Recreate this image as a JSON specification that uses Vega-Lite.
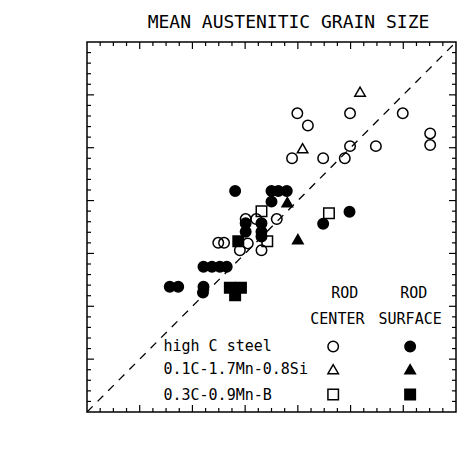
{
  "$schema": "https://vega.github.io/schema/vega-lite/v6.json",
  "width": 369,
  "height": 370,
  "autosize": {"type": "none"},
  "padding": {"left": 87, "top": 42, "right": 12, "bottom": 55},
  "title": {"text": "MEAN AUSTENITIC GRAIN SIZE", "font": "DejaVu Sans Mono", "fontSize": 18, "fontWeight": "normal", "color": "black", "anchor": "middle", "dx": 17, "offset": 7},
  "config": {"view": {"stroke": "black", "strokeWidth": 1.5}, "font": "DejaVu Sans Mono", "background": "white"},
  "datasets": {
    "points": [
      {"m": 39.9, "c": 56.5, "steel": "high C steel", "pos": "center"},
      {"m": 49.9, "c": 56.5, "steel": "high C steel", "pos": "center"},
      {"m": 59.9, "c": 56.5, "steel": "high C steel", "pos": "center"},
      {"m": 41.9, "c": 54.2, "steel": "high C steel", "pos": "center"},
      {"m": 65.1, "c": 52.7, "steel": "high C steel", "pos": "center"},
      {"m": 65.1, "c": 50.5, "steel": "high C steel", "pos": "center"},
      {"m": 49.9, "c": 50.3, "steel": "high C steel", "pos": "center"},
      {"m": 54.8, "c": 50.3, "steel": "high C steel", "pos": "center"},
      {"m": 38.9, "c": 48.0, "steel": "high C steel", "pos": "center"},
      {"m": 44.8, "c": 48.0, "steel": "high C steel", "pos": "center"},
      {"m": 48.9, "c": 48.0, "steel": "high C steel", "pos": "center"},
      {"m": 30.1, "c": 36.5, "steel": "high C steel", "pos": "center"},
      {"m": 32.1, "c": 36.5, "steel": "high C steel", "pos": "center"},
      {"m": 36.0, "c": 36.5, "steel": "high C steel", "pos": "center"},
      {"m": 24.9, "c": 32.0, "steel": "high C steel", "pos": "center"},
      {"m": 26.0, "c": 32.0, "steel": "high C steel", "pos": "center"},
      {"m": 29.0, "c": 30.6, "steel": "high C steel", "pos": "center"},
      {"m": 30.5, "c": 31.9, "steel": "high C steel", "pos": "center"},
      {"m": 33.1, "c": 30.6, "steel": "high C steel", "pos": "center"},
      {"m": 51.8, "c": 60.6, "steel": "0.1C-1.7Mn-0.8Si", "pos": "center"},
      {"m": 40.9, "c": 49.9, "steel": "0.1C-1.7Mn-0.8Si", "pos": "center"},
      {"m": 33.1, "c": 38.0, "steel": "0.3C-0.9Mn-B", "pos": "center"},
      {"m": 45.9, "c": 37.6, "steel": "0.3C-0.9Mn-B", "pos": "center"},
      {"m": 34.2, "c": 32.3, "steel": "0.3C-0.9Mn-B", "pos": "center"},
      {"m": 28.1, "c": 41.8, "steel": "high C steel", "pos": "surface"},
      {"m": 35.0, "c": 41.8, "steel": "high C steel", "pos": "surface"},
      {"m": 36.3, "c": 41.8, "steel": "high C steel", "pos": "surface"},
      {"m": 37.9, "c": 41.8, "steel": "high C steel", "pos": "surface"},
      {"m": 35.0, "c": 39.8, "steel": "high C steel", "pos": "surface"},
      {"m": 49.8, "c": 37.9, "steel": "high C steel", "pos": "surface"},
      {"m": 44.8, "c": 35.6, "steel": "high C steel", "pos": "surface"},
      {"m": 30.1, "c": 35.7, "steel": "high C steel", "pos": "surface"},
      {"m": 30.1, "c": 34.1, "steel": "high C steel", "pos": "surface"},
      {"m": 33.1, "c": 35.7, "steel": "high C steel", "pos": "surface"},
      {"m": 33.1, "c": 34.1, "steel": "high C steel", "pos": "surface"},
      {"m": 33.1, "c": 33.2, "steel": "high C steel", "pos": "surface"},
      {"m": 22.1, "c": 27.5, "steel": "high C steel", "pos": "surface"},
      {"m": 23.7, "c": 27.5, "steel": "high C steel", "pos": "surface"},
      {"m": 25.2, "c": 27.5, "steel": "high C steel", "pos": "surface"},
      {"m": 26.5, "c": 27.5, "steel": "high C steel", "pos": "surface"},
      {"m": 15.7, "c": 23.7, "steel": "high C steel", "pos": "surface"},
      {"m": 17.3, "c": 23.7, "steel": "high C steel", "pos": "surface"},
      {"m": 22.1, "c": 23.7, "steel": "high C steel", "pos": "surface"},
      {"m": 22.0, "c": 22.6, "steel": "high C steel", "pos": "surface"},
      {"m": 38.0, "c": 39.7, "steel": "0.1C-1.7Mn-0.8Si", "pos": "surface"},
      {"m": 40.0, "c": 32.7, "steel": "0.1C-1.7Mn-0.8Si", "pos": "surface"},
      {"m": 28.7, "c": 32.3, "steel": "0.3C-0.9Mn-B", "pos": "surface"},
      {"m": 27.1, "c": 23.5, "steel": "0.3C-0.9Mn-B", "pos": "surface"},
      {"m": 29.2, "c": 23.5, "steel": "0.3C-0.9Mn-B", "pos": "surface"},
      {"m": 28.1, "c": 22.1, "steel": "0.3C-0.9Mn-B", "pos": "surface"}
    ],
    "diag": [{"m": 0, "c": 0}, {"m": 70, "c": 70}],
    "xMajor": [{"v": 10}, {"v": 20}, {"v": 30}, {"v": 40}, {"v": 50}, {"v": 60}],
    "xMinor": [{"v": 2.5}, {"v": 5}, {"v": 7.5}, {"v": 12.5}, {"v": 15}, {"v": 17.5}, {"v": 22.5}, {"v": 25}, {"v": 27.5}, {"v": 32.5}, {"v": 35}, {"v": 37.5}, {"v": 42.5}, {"v": 45}, {"v": 47.5}, {"v": 52.5}, {"v": 55}, {"v": 57.5}, {"v": 62.5}, {"v": 65}, {"v": 67.5}],
    "yMajor": [{"v": 10}, {"v": 20}, {"v": 30}, {"v": 40}, {"v": 50}, {"v": 60}],
    "yMinor": [{"v": 2}, {"v": 4}, {"v": 6}, {"v": 8}, {"v": 12}, {"v": 14}, {"v": 16}, {"v": 18}, {"v": 22}, {"v": 24}, {"v": 26}, {"v": 28}, {"v": 32}, {"v": 34}, {"v": 36}, {"v": 38}, {"v": 42}, {"v": 44}, {"v": 46}, {"v": 48}, {"v": 52}, {"v": 54}, {"v": 56}, {"v": 58}, {"v": 62}, {"v": 64}, {"v": 66}, {"v": 68}],
    "legendSymbols": [
      {"m": 46.7, "c": 12.4, "steel": "high C steel", "pos": "center"},
      {"m": 61.3, "c": 12.4, "steel": "high C steel", "pos": "surface"},
      {"m": 46.7, "c": 8.1, "steel": "0.1C-1.7Mn-0.8Si", "pos": "center"},
      {"m": 61.3, "c": 8.1, "steel": "0.1C-1.7Mn-0.8Si", "pos": "surface"},
      {"m": 46.7, "c": 3.3, "steel": "0.3C-0.9Mn-B", "pos": "center"},
      {"m": 61.3, "c": 3.3, "steel": "0.3C-0.9Mn-B", "pos": "surface"}
    ],
    "legendNames": [
      {"m": 14.5, "c": 12.4, "label": "high C steel"},
      {"m": 14.5, "c": 8.1, "label": "0.1C-1.7Mn-0.8Si"},
      {"m": 14.5, "c": 3.3, "label": "0.3C-0.9Mn-B"}
    ],
    "legendHeaders": [
      {"m": 48.9, "c": 22.5, "label": "ROD"},
      {"m": 62.0, "c": 22.5, "label": "ROD"},
      {"m": 47.5, "c": 17.6, "label": "CENTER"},
      {"m": 61.3, "c": 17.6, "label": "SURFACE"}
    ]
  },
  "layer": [
    {
      "data": {"name": "diag"},
      "mark": {"type": "line", "color": "black", "strokeWidth": 1.3, "strokeDash": [8, 7]},
      "encoding": {
        "x": {"field": "m", "type": "quantitative", "scale": {"domain": [0, 70], "nice": false, "zero": false},
          "axis": {"orient": "bottom", "title": "measured grain size (μm)", "titleFont": "DejaVu Sans Mono", "titleFontSize": 16, "titleFontWeight": "normal", "titleColor": "black", "titlePadding": 4,
            "values": [0, 10, 20, 30, 40, 50, 60, 70],
            "labelFont": "DejaVu Sans Mono", "labelFontSize": 15, "labelColor": "black", "labelOverlap": false, "labelPadding": 13,
            "tickSize": -4, "tickColor": "black", "tickWidth": 1.2, "domain": false, "grid": false}},
        "y": {"field": "c", "type": "quantitative", "scale": {"domain": [0, 70], "nice": false, "zero": false},
          "axis": {"orient": "left", "title": "calculated grain size (μm)", "titleFont": "DejaVu Sans Mono", "titleFontSize": 16, "titleFontWeight": "normal", "titleColor": "black", "titlePadding": 25,
            "values": [0, 10, 20, 30, 40, 50, 60, 70],
            "labelFont": "DejaVu Sans Mono", "labelFontSize": 15, "labelColor": "black", "labelOverlap": false, "labelPadding": 21,
            "tickSize": -4, "tickColor": "black", "tickWidth": 1.2, "domain": false, "grid": false}}
      }
    },
    {
      "data": {"name": "xMajor"},
      "mark": {"type": "rule", "color": "black", "strokeWidth": 1.2},
      "encoding": {
        "x": {"field": "v", "type": "quantitative", "scale": {"domain": [0, 70], "nice": false, "zero": false}, "axis": null},
        "y": {"datum": 0, "type": "quantitative", "scale": {"domain": [0, 70], "nice": false, "zero": false}, "axis": null},
        "y2": {"datum": 1.33}
      }
    },
    {
      "data": {"name": "xMinor"},
      "mark": {"type": "rule", "color": "black", "strokeWidth": 1.2},
      "encoding": {
        "x": {"field": "v", "type": "quantitative", "scale": {"domain": [0, 70], "nice": false, "zero": false}, "axis": null},
        "y": {"datum": 0, "type": "quantitative", "scale": {"domain": [0, 70], "nice": false, "zero": false}, "axis": null},
        "y2": {"datum": 0.76}
      }
    },
    {
      "data": {"name": "xMajor"},
      "mark": {"type": "rule", "color": "black", "strokeWidth": 1.2},
      "encoding": {
        "x": {"field": "v", "type": "quantitative", "scale": {"domain": [0, 70], "nice": false, "zero": false}, "axis": null},
        "y": {"datum": 70, "type": "quantitative", "scale": {"domain": [0, 70], "nice": false, "zero": false}, "axis": null},
        "y2": {"datum": 68.67}
      }
    },
    {
      "data": {"name": "xMinor"},
      "mark": {"type": "rule", "color": "black", "strokeWidth": 1.2},
      "encoding": {
        "x": {"field": "v", "type": "quantitative", "scale": {"domain": [0, 70], "nice": false, "zero": false}, "axis": null},
        "y": {"datum": 70, "type": "quantitative", "scale": {"domain": [0, 70], "nice": false, "zero": false}, "axis": null},
        "y2": {"datum": 69.24}
      }
    },
    {
      "data": {"name": "yMajor"},
      "mark": {"type": "rule", "color": "black", "strokeWidth": 1.2},
      "encoding": {
        "y": {"field": "v", "type": "quantitative", "scale": {"domain": [0, 70], "nice": false, "zero": false}, "axis": null},
        "x": {"datum": 0, "type": "quantitative", "scale": {"domain": [0, 70], "nice": false, "zero": false}, "axis": null},
        "x2": {"datum": 1.33}
      }
    },
    {
      "data": {"name": "yMinor"},
      "mark": {"type": "rule", "color": "black", "strokeWidth": 1.2},
      "encoding": {
        "y": {"field": "v", "type": "quantitative", "scale": {"domain": [0, 70], "nice": false, "zero": false}, "axis": null},
        "x": {"datum": 0, "type": "quantitative", "scale": {"domain": [0, 70], "nice": false, "zero": false}, "axis": null},
        "x2": {"datum": 0.76}
      }
    },
    {
      "data": {"name": "yMajor"},
      "mark": {"type": "rule", "color": "black", "strokeWidth": 1.2},
      "encoding": {
        "y": {"field": "v", "type": "quantitative", "scale": {"domain": [0, 70], "nice": false, "zero": false}, "axis": null},
        "x": {"datum": 70, "type": "quantitative", "scale": {"domain": [0, 70], "nice": false, "zero": false}, "axis": null},
        "x2": {"datum": 68.67}
      }
    },
    {
      "data": {"name": "yMinor"},
      "mark": {"type": "rule", "color": "black", "strokeWidth": 1.2},
      "encoding": {
        "y": {"field": "v", "type": "quantitative", "scale": {"domain": [0, 70], "nice": false, "zero": false}, "axis": null},
        "x": {"datum": 70, "type": "quantitative", "scale": {"domain": [0, 70], "nice": false, "zero": false}, "axis": null},
        "x2": {"datum": 69.24}
      }
    },
    {
      "data": {"name": "points"},
      "mark": {"type": "point", "filled": true, "stroke": "black", "strokeWidth": 1.5, "size": 110, "opacity": 1},
      "encoding": {
        "x": {"field": "m", "type": "quantitative", "scale": {"domain": [0, 70], "nice": false, "zero": false}, "axis": null},
        "y": {"field": "c", "type": "quantitative", "scale": {"domain": [0, 70], "nice": false, "zero": false}, "axis": null},
        "shape": {"field": "steel", "type": "nominal", "scale": {"domain": ["high C steel", "0.1C-1.7Mn-0.8Si", "0.3C-0.9Mn-B"], "range": ["circle", "triangle-up", "square"]}, "legend": null},
        "fill": {"field": "pos", "type": "nominal", "scale": {"domain": ["center", "surface"], "range": ["transparent", "black"]}, "legend": null}
      }
    },
    {
      "data": {"name": "legendSymbols"},
      "mark": {"type": "point", "filled": true, "stroke": "black", "strokeWidth": 1.5, "size": 110, "opacity": 1},
      "encoding": {
        "x": {"field": "m", "type": "quantitative", "scale": {"domain": [0, 70], "nice": false, "zero": false}, "axis": null},
        "y": {"field": "c", "type": "quantitative", "scale": {"domain": [0, 70], "nice": false, "zero": false}, "axis": null},
        "shape": {"field": "steel", "type": "nominal", "scale": {"domain": ["high C steel", "0.1C-1.7Mn-0.8Si", "0.3C-0.9Mn-B"], "range": ["circle", "triangle-up", "square"]}, "legend": null},
        "fill": {"field": "pos", "type": "nominal", "scale": {"domain": ["center", "surface"], "range": ["transparent", "black"]}, "legend": null}
      }
    },
    {
      "data": {"name": "legendNames"},
      "mark": {"type": "text", "align": "left", "baseline": "middle", "font": "DejaVu Sans Mono", "fontSize": 15, "color": "black"},
      "encoding": {
        "x": {"field": "m", "type": "quantitative", "scale": {"domain": [0, 70], "nice": false, "zero": false}, "axis": null},
        "y": {"field": "c", "type": "quantitative", "scale": {"domain": [0, 70], "nice": false, "zero": false}, "axis": null},
        "text": {"field": "label"}
      }
    },
    {
      "data": {"name": "legendHeaders"},
      "mark": {"type": "text", "align": "center", "baseline": "middle", "font": "DejaVu Sans Mono", "fontSize": 15, "color": "black"},
      "encoding": {
        "x": {"field": "m", "type": "quantitative", "scale": {"domain": [0, 70], "nice": false, "zero": false}, "axis": null},
        "y": {"field": "c", "type": "quantitative", "scale": {"domain": [0, 70], "nice": false, "zero": false}, "axis": null},
        "text": {"field": "label"}
      }
    }
  ]
}
